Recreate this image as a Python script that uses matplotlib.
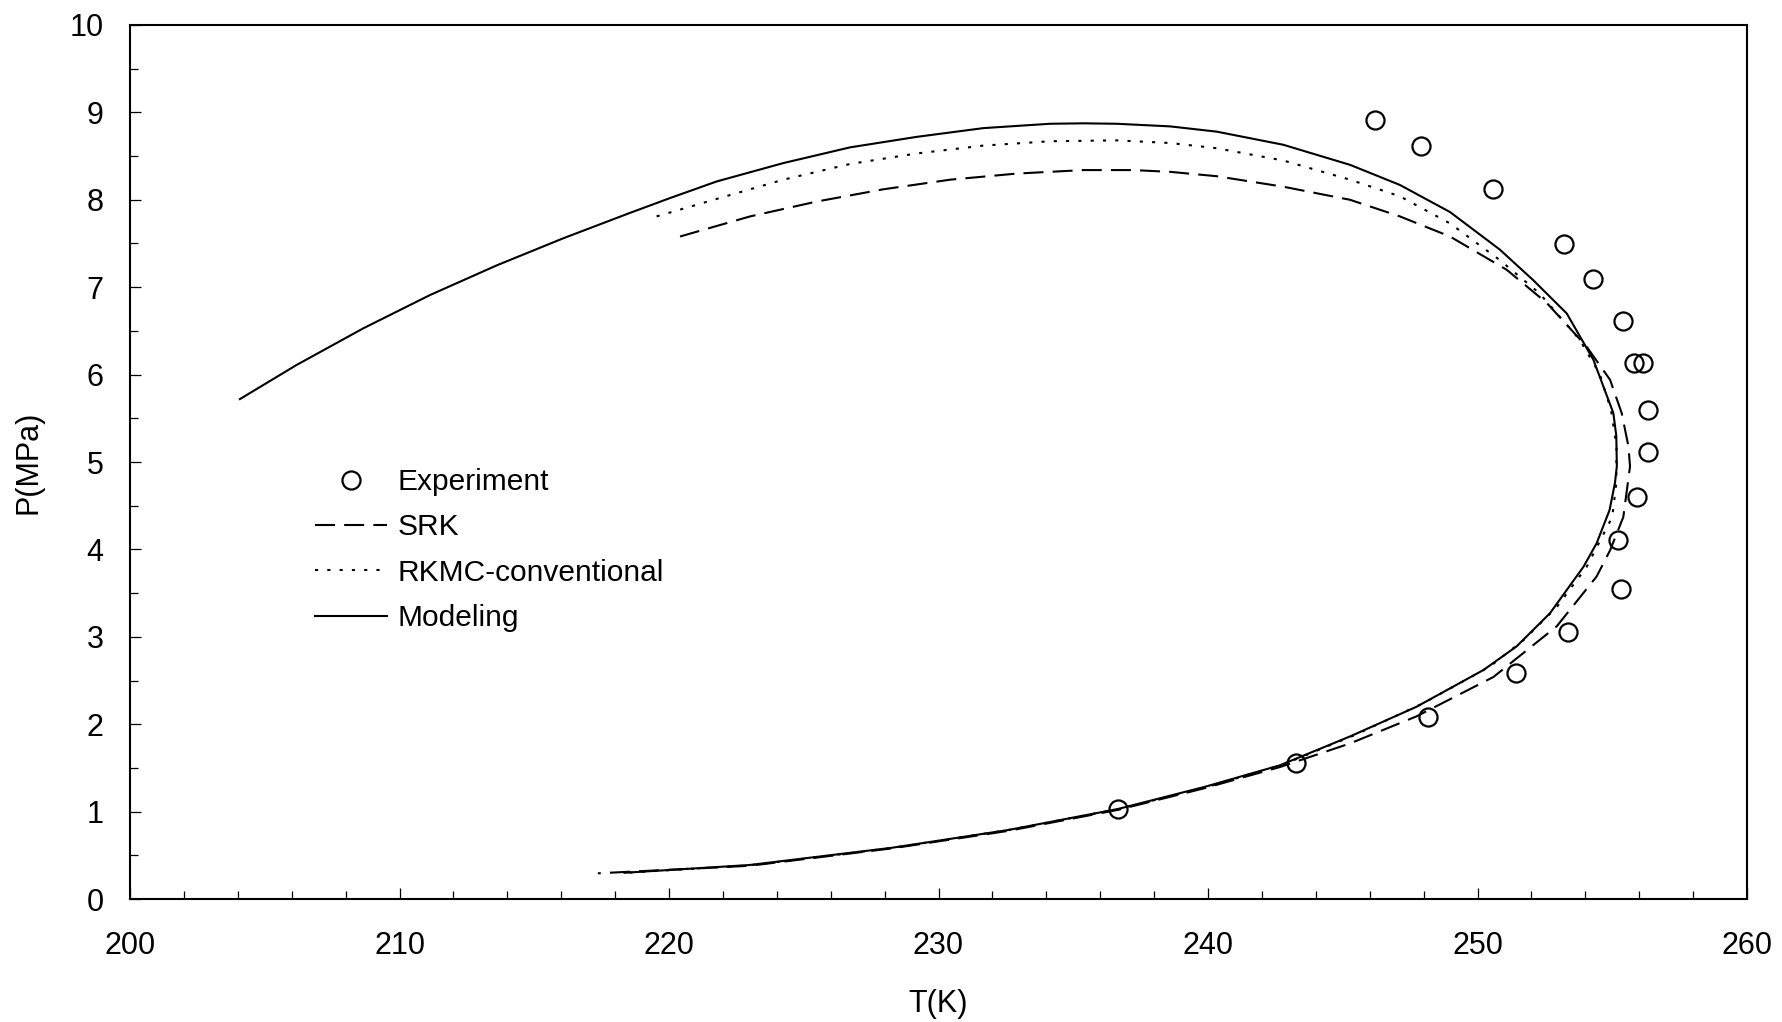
import matplotlib
matplotlib.use("Agg")
import matplotlib.pyplot as plt
from matplotlib.ticker import MultipleLocator

plt.rcParams['font.family'] = ['Liberation Sans', 'DejaVu Sans']

# Experimental phase-envelope points
exp_T = [236.66, 243.27, 248.15, 251.42, 253.37, 255.31, 255.20, 255.91, 256.31,
         256.31, 255.82, 256.13, 255.41, 254.30, 253.21, 250.59, 247.90, 246.20]
exp_P = [1.03, 1.556, 2.08, 2.59, 3.06, 3.55, 4.11, 4.60, 5.11,
         5.59, 6.13, 6.13, 6.61, 7.09, 7.49, 8.12, 8.61, 8.91]

# SRK equation of state envelope
srk_T = [220.41, 223.01, 225.48, 227.95, 230.43, 232.90, 235.37, 237.23, 238.59,
         240.32, 242.79, 245.27, 247.12, 248.98, 251.08, 252.57, 254.05, 254.92,
         255.35, 255.60, 255.66, 255.41, 254.92, 254.42, 252.94, 250.59, 247.74,
         245.27, 242.67, 239.90, 236.66, 232.60, 228.29, 222.99, 217.36]
srk_P = [7.58, 7.81, 7.98, 8.12, 8.23, 8.30, 8.34, 8.34, 8.32,
         8.27, 8.15, 8.00, 7.81, 7.58, 7.20, 6.82, 6.32, 5.94,
         5.56, 5.18, 4.95, 4.37, 3.99, 3.69, 3.12, 2.54, 2.09,
         1.78, 1.51, 1.27, 1.02, 0.78, 0.58, 0.38, 0.294]

# RKMC (conventional mixing) envelope
rkmc_T = [219.54, 221.77, 224.24, 226.72, 229.19, 231.66, 234.14, 236.61, 238.59,
          240.32, 242.79, 245.27, 247.12, 248.98, 250.83, 252.30, 253.79, 254.53,
          254.95, 255.16, 255.15, 255.00, 254.05, 252.94, 251.70, 250.46, 247.99,
          245.40, 242.80, 239.95, 236.70, 232.60, 228.30, 223.00, 218.40]
rkmc_P = [7.81, 8.01, 8.23, 8.41, 8.53, 8.62, 8.67, 8.68, 8.65,
          8.59, 8.45, 8.23, 8.04, 7.73, 7.31, 6.93, 6.40, 6.01,
          5.60, 5.18, 4.76, 4.37, 3.80, 3.34, 2.96, 2.66, 2.24,
          1.87, 1.54, 1.28, 1.03, 0.79, 0.585, 0.385, 0.30]

# Proposed model envelope
model_T = [204.08, 206.18, 208.66, 211.13, 213.61, 216.08, 218.55, 220.04, 221.77,
           224.24, 226.72, 229.19, 231.66, 234.14, 235.37, 236.61, 238.59, 240.32,
           242.79, 245.27, 247.12, 248.98, 250.83, 252.07, 253.31, 254.30, 255.04,
           255.15, 255.17, 255.10, 254.90, 254.42, 253.93, 252.69, 251.45, 250.22,
           247.74, 245.27, 242.67, 239.90, 236.66, 232.60, 228.29, 222.99, 218.35]
model_P = [5.72, 6.11, 6.53, 6.91, 7.25, 7.56, 7.85, 8.02, 8.21,
           8.42, 8.60, 8.72, 8.82, 8.87, 8.875, 8.87, 8.84, 8.78,
           8.63, 8.40, 8.17, 7.86, 7.43, 7.08, 6.70, 6.17, 5.56,
           5.30, 4.95, 4.76, 4.45, 4.07, 3.80, 3.27, 2.89, 2.62,
           2.20, 1.86, 1.53, 1.285, 1.03, 0.79, 0.587, 0.389, 0.30]

fig = plt.figure(figsize=(17.83, 10.22), dpi=100)
ax = fig.add_axes([130 / 1783, 1 - 899 / 1022, (1747 - 130) / 1783, (899 - 25) / 1022])

lw = 1.5
ax.plot(exp_T, exp_P, linestyle='none', marker='o', markersize=13,
        markerfacecolor='none', markeredgecolor='black', markeredgewidth=1.6,
        label='Experiment', zorder=4)
ax.plot(srk_T, srk_P, color='black', lw=lw, dashes=(9.6, 4.4), label='SRK')
ax.plot(rkmc_T, rkmc_P, color='black', lw=lw, dashes=(1.5, 4.4),
        label='RKMC-conventional')
ax.plot(model_T, model_P, color='black', lw=lw, label='Modeling')

ax.set_xlim(200, 260)
ax.set_ylim(0, 10)
ax.xaxis.set_major_locator(MultipleLocator(10))
ax.xaxis.set_minor_locator(MultipleLocator(2))
ax.yaxis.set_major_locator(MultipleLocator(1))
ax.yaxis.set_minor_locator(MultipleLocator(0.5))

ax.tick_params(which='both', direction='in', top=False, right=False,
               width=0.9, labelsize=22)
ax.tick_params(axis='x', which='both', pad=23)
ax.tick_params(axis='y', which='both', pad=19)
ax.tick_params(which='major', length=8)
ax.tick_params(which='minor', length=5.5)

for s in ax.spines.values():
    s.set_linewidth(1.5)

ax.set_xlabel('T(K)', fontsize=22, labelpad=20)
ax.set_ylabel('P(MPa)', fontsize=22, labelpad=19)

leg = ax.legend(loc='upper left', bbox_to_anchor=(315 / 1783, 1 - 468 / 1022),
                bbox_transform=fig.transFigure, frameon=False, fontsize=21.5,
                handlelength=2.4, handletextpad=0.36, labelspacing=0.58,
                borderpad=0, borderaxespad=0)

fig.savefig('out.png', dpi=100)
